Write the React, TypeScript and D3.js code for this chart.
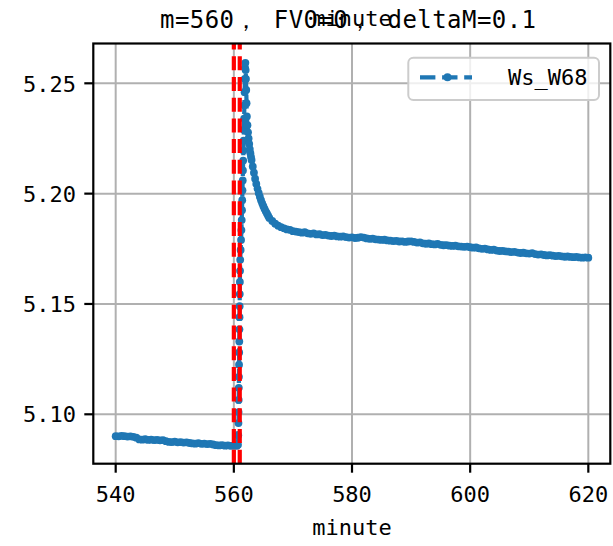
import React from 'react';
import * as d3 from 'd3';

// ---- data ----
const preMinutes = [540, 540.5, 541, 541.5, 542, 542.5, 543, 543.5, 544, 544.5, 545, 545.5, 546, 546.5, 547, 547.5, 548, 548.5, 549, 549.5, 550, 550.5, 551, 551.5, 552, 552.5, 553, 553.5, 554, 554.5, 555, 555.5, 556, 556.5, 557, 557.5, 558, 558.5, 559, 559.5, 560, 560.5];
const preValues = [5.0901, 5.09, 5.0902, 5.0901, 5.0899, 5.09, 5.0898, 5.0894, 5.0886, 5.0885, 5.0887, 5.0884, 5.0885, 5.0883, 5.0884, 5.0882, 5.0883, 5.0878, 5.0875, 5.0874, 5.0876, 5.0873, 5.0874, 5.0872, 5.0873, 5.087, 5.0868, 5.0867, 5.0869, 5.0866, 5.0867, 5.0865, 5.0866, 5.0863, 5.086, 5.0859, 5.086, 5.0858, 5.0859, 5.0857, 5.0858, 5.0857];

const jumpMinutes = [560.7, 560.75, 560.78, 560.8, 560.82, 560.84, 560.86, 560.88, 560.9, 560.92, 560.94, 560.96, 560.98, 561.0, 561.02, 561.05, 561.08, 561.15, 561.22, 561.28, 561.33, 561.38, 561.42, 561.46, 561.5, 561.54, 561.58, 561.62, 561.66, 561.7, 561.74, 561.78, 561.82, 561.86, 561.9, 561.95];
const jumpValues = [5.0862, 5.0905, 5.096, 5.101, 5.1065, 5.112, 5.117, 5.1225, 5.128, 5.133, 5.1385, 5.144, 5.149, 5.1545, 5.16, 5.165, 5.17, 5.1745, 5.179, 5.1835, 5.188, 5.1925, 5.197, 5.2015, 5.206, 5.2105, 5.215, 5.2195, 5.224, 5.229, 5.234, 5.24, 5.246, 5.252, 5.257, 5.2593];

const decayMinutes = [562.0, 562.05, 562.1, 562.15, 562.2, 562.3, 562.4, 562.5, 562.6, 562.7, 562.8, 562.9, 563.0, 563.2, 563.4, 563.6, 563.8, 564.0, 564.2, 564.4, 564.6, 564.8, 565.0, 565.2, 565.4, 565.6, 565.8];
const decayValues = [5.256, 5.252, 5.247, 5.241, 5.235, 5.231, 5.2278, 5.225, 5.2225, 5.2202, 5.2183, 5.2167, 5.2153, 5.2123, 5.2095, 5.2068, 5.2044, 5.2022, 5.2003, 5.1986, 5.197, 5.1956, 5.1943, 5.1931, 5.192, 5.191, 5.19];

const tailMinutes = [566, 566.5, 567, 567.5, 568, 568.5, 569, 569.5, 570, 570.5, 571, 571.5, 572, 572.5, 573, 573.5, 574, 574.5, 575, 575.5, 576, 576.5, 577, 577.5, 578, 578.5, 579, 579.5, 580, 580.5, 581, 581.5, 582, 582.5, 583, 583.5, 584, 584.5, 585, 585.5, 586, 586.5, 587, 587.5, 588, 588.5, 589, 589.5, 590, 590.5, 591, 591.5, 592, 592.5, 593, 593.5, 594, 594.5, 595, 595.5, 596, 596.5, 597, 597.5, 598, 598.5, 599, 599.5, 600, 600.5, 601, 601.5, 602, 602.5, 603, 603.5, 604, 604.5, 605, 605.5, 606, 606.5, 607, 607.5, 608, 608.5, 609, 609.5, 610, 610.5, 611, 611.5, 612, 612.5, 613, 613.5, 614, 614.5, 615, 615.5, 616, 616.5, 617, 617.5, 618, 618.5, 619, 619.5, 620];
const tailValues = [5.189, 5.1876, 5.1864, 5.1855, 5.1848, 5.1843, 5.1838, 5.1836, 5.183, 5.1828, 5.1826, 5.1823, 5.1825, 5.182, 5.1818, 5.182, 5.1815, 5.1816, 5.1812, 5.1813, 5.181, 5.1808, 5.181, 5.1806, 5.1805, 5.1806, 5.1803, 5.1801, 5.1802, 5.1799, 5.18, 5.1803, 5.1801, 5.1797, 5.1795, 5.1796, 5.1793, 5.1792, 5.179, 5.1791, 5.1788, 5.1787, 5.1785, 5.1786, 5.1783, 5.1784, 5.1781, 5.1783, 5.1784, 5.1781, 5.1778, 5.1779, 5.1775, 5.1773, 5.1774, 5.1771, 5.177, 5.1772, 5.1768, 5.1766, 5.1767, 5.1764, 5.1763, 5.1764, 5.1761, 5.176, 5.1759, 5.176, 5.1757, 5.1755, 5.1756, 5.1752, 5.175, 5.1751, 5.1747, 5.1745, 5.1746, 5.1742, 5.174, 5.1741, 5.1738, 5.1737, 5.1735, 5.1736, 5.1733, 5.1731, 5.1732, 5.1729, 5.1728, 5.173, 5.1726, 5.1724, 5.1725, 5.1722, 5.172, 5.1721, 5.1719, 5.1717, 5.1718, 5.1716, 5.1714, 5.1715, 5.1713, 5.1712, 5.1713, 5.1711, 5.171, 5.1711, 5.171];

const xTicks = [540, 560, 580, 600, 620];
const yTicks = [5.10, 5.15, 5.20, 5.25];
const vLines = [560, 561];
const seriesName = 'Ws_W68';
const titleText = 'm=560， FV0=0， deltaM=0.1';
const xLabel = 'minute';

const W = 613;
const H = 546;
const L = 93.3, R = 610.3, T = 43.5, B = 463.7;
const BLUE = '#1f77b4';
const FONT = '"DejaVu Sans Mono", "Liberation Mono", monospace';

export default function App() {
  const x = d3.scaleLinear().domain([536.21, 623.72]).range([L, R]);
  const y = d3.scaleLinear().domain([5.07761, 5.26804]).range([B, T]);

  const minutes = [...preMinutes, ...jumpMinutes, ...decayMinutes, ...tailMinutes];
  const values = [...preValues, ...jumpValues, ...decayValues, ...tailValues];
  const pts: [number, number][] = minutes.map((m, i) => [m, values[i]]);
  const line = d3.line<[number, number]>().x(d => x(d[0])).y(d => y(d[1]));

  const lw = 4.2;
  const dash = `${3.7 * lw * 0.9} ${1.6 * lw}`;

  return (
    <svg width={W} height={H} style={{ position: 'absolute', left: 0, top: 0, background: '#fff' }} fontFamily={FONT}>
      <rect x={0} y={0} width={W} height={H} fill="#fff" />
      <defs>
        <clipPath id="clip"><rect x={L} y={T} width={R - L} height={B - T} /></clipPath>
      </defs>
      {/* grid */}
      {xTicks.map(t => (
        <line key={'gx' + t} x1={x(t)} x2={x(t)} y1={T} y2={B} stroke="#b0b0b0" strokeWidth={2} />
      ))}
      {yTicks.map(t => (
        <line key={'gy' + t} x1={L} x2={R} y1={y(t)} y2={y(t)} stroke="#b0b0b0" strokeWidth={2} />
      ))}
      <g clipPath="url(#clip)">
        <path d={line(pts) || ''} fill="none" stroke={BLUE} strokeWidth={lw} strokeDasharray={dash} />
        {pts.map((p, i) => (
          <circle key={i} cx={x(p[0])} cy={y(p[1])} r={3.9} fill={BLUE} />
        ))}
        {vLines.map(v => (
          <line key={'v' + v} x1={x(v)} x2={x(v)} y1={B} y2={T} stroke="#ff0000" strokeWidth={lw} strokeDasharray={dash} />
        ))}
      </g>
      {/* spines */}
      <rect x={L} y={T} width={R - L} height={B - T} fill="none" stroke="#000" strokeWidth={2.2} />
      {/* x ticks */}
      {xTicks.map(t => (
        <g key={'xt' + t}>
          <line x1={x(t)} x2={x(t)} y1={B} y2={B + 9} stroke="#000" strokeWidth={2.2} />
          <text x={x(t)} y={502} fontSize={22} textAnchor="middle" fill="#000">{t}</text>
        </g>
      ))}
      {/* y ticks */}
      {yTicks.map(t => (
        <g key={'yt' + t}>
          <line x1={L - 9} x2={L} y1={y(t)} y2={y(t)} stroke="#000" strokeWidth={2.2} />
          <text x={76} y={y(t) + 8.2} fontSize={22} textAnchor="end" fill="#000">{t.toFixed(2)}</text>
        </g>
      ))}
      {/* labels */}
      <text x={352} y={535} fontSize={22} textAnchor="middle" fill="#000">{xLabel}</text>
      <text x={160} y={27.5} fontSize={24} textLength={376} lengthAdjust="spacing" fill="#000">{titleText}</text>
      <text x={352} y={26} fontSize={22} textAnchor="middle" fill="#000">{xLabel}</text>
      {/* legend */}
      <g>
        <rect x={408.3} y={57.7} width={190.7} height={42.3} rx={5} ry={5} fill="#fff" fillOpacity={0.8} stroke="#cccccc" strokeWidth={2} />
        <line x1={420} x2={472} y1={77.3} y2={77.3} stroke={BLUE} strokeWidth={lw} strokeDasharray={`${15.4} ${6.7}`} />
        <circle cx={447.5} cy={77.3} r={4} fill={BLUE} />
        <text x={508} y={84.5} fontSize={22} fill="#000">{seriesName}</text>
      </g>
    </svg>
  );
}
